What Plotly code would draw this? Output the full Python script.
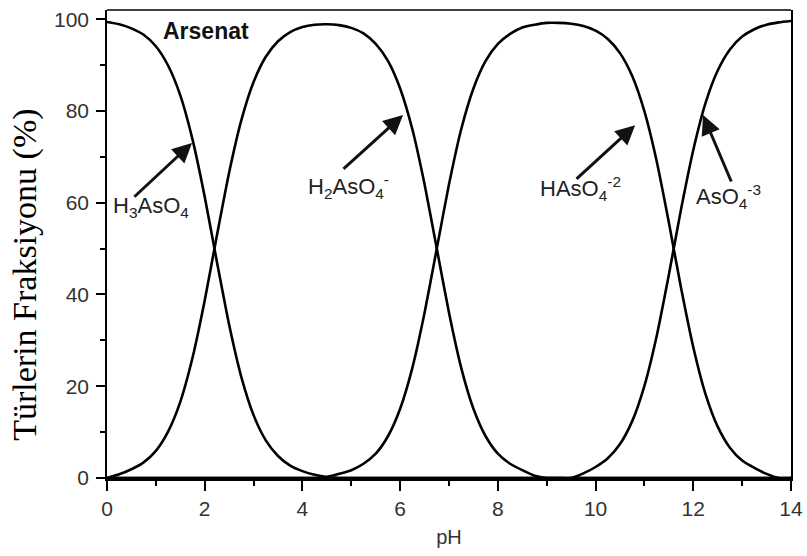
import plotly.graph_objects as go

# --- data ---
ph = [0.0, 0.25, 0.5, 0.75, 1.0, 1.25, 1.5, 1.75, 2.0, 2.25, 2.5, 2.75, 3.0, 3.25,
      3.5, 3.75, 4.0, 4.25, 4.5, 4.75, 5.0, 5.25, 5.5, 5.75, 6.0, 6.25, 6.5, 6.75,
      7.0, 7.25, 7.5, 7.75, 8.0, 8.25, 8.5, 8.75, 9.0, 9.25, 9.5, 9.75, 10.0, 10.25,
      10.5, 10.75, 11.0, 11.25, 11.5, 11.75, 12.0, 12.25, 12.5, 12.75, 13.0, 13.25,
      13.5, 13.75, 14.0]

h3aso4 = [99.4, 98.9, 98.0, 96.6, 94.1, 89.9, 83.4, 73.8, 61.3, 47.1, 33.4, 22.0, 13.7, 8.2,
          4.8, 2.7, 1.5, 0.7, 0.2, 0.0, 0.0, 0.0, 0.0, 0.0, 0.0, 0.0, 0.0, 0.0,
          0.0, 0.0, 0.0, 0.0, 0.0, 0.0, 0.0, 0.0, 0.0, 0.0, 0.0, 0.0, 0.0, 0.0,
          0.0, 0.0, 0.0, 0.0, 0.0, 0.0, 0.0, 0.0, 0.0, 0.0, 0.0, 0.0,
          0.0, 0.0, 0.0]

h2aso4 = [0.0, 0.8, 1.9, 3.4, 5.9, 10.1, 16.6, 26.2, 38.7, 52.9, 66.6, 78.0, 86.3, 91.8,
          95.2, 97.2, 98.3, 98.8, 98.9, 98.7, 98.1, 96.9, 94.6, 90.9, 84.9, 76.0, 64.0, 50.0,
          36.0, 24.0, 15.1, 9.1, 5.3, 3.1, 1.7, 0.5, 0.0, 0.0, 0.0, 0.0, 0.0, 0.0,
          0.0, 0.0, 0.0, 0.0, 0.0, 0.0, 0.0, 0.0, 0.0, 0.0, 0.0, 0.0,
          0.0, 0.0, 0.0]

haso4 = [0.0, 0.0, 0.0, 0.0, 0.0, 0.0, 0.0, 0.0, 0.0, 0.0, 0.0, 0.0, 0.0, 0.0,
         0.0, 0.0, 0.0, 0.0, 0.2, 0.9, 1.7, 3.1, 5.3, 9.1, 15.1, 24.0, 36.0, 50.0,
         64.0, 76.0, 84.9, 90.9, 94.6, 96.8, 98.2, 98.8, 99.2, 99.2, 99.0, 98.5, 97.5, 95.7,
         92.6, 87.6, 79.9, 69.1, 55.7, 41.4, 28.5, 18.3, 11.2, 6.6, 3.8, 2.2,
         0.9, 0.0, 0.0]

aso4 = [0.0, 0.0, 0.0, 0.0, 0.0, 0.0, 0.0, 0.0, 0.0, 0.0, 0.0, 0.0, 0.0, 0.0,
        0.0, 0.0, 0.0, 0.0, 0.0, 0.0, 0.0, 0.0, 0.0, 0.0, 0.0, 0.0, 0.0, 0.0,
        0.0, 0.0, 0.0, 0.0, 0.0, 0.0, 0.0, 0.0, 0.0, 0.0, 0.0, 1.0, 2.4, 4.3,
        7.4, 12.4, 20.1, 30.9, 44.3, 58.6, 71.5, 81.7, 88.8, 93.4, 96.2, 97.8,
        98.8, 99.3, 99.6]

series = [("H3AsO4", h3aso4), ("H2AsO4-", h2aso4), ("HAsO4-2", haso4), ("AsO4-3", aso4)]

# species labels: (text, x_left, y_mid, arrow head x, head y, tail x, tail y)
labels = [
    ("H<sub>3</sub>AsO<sub>4</sub>", 0.08, 59.0, 1.74, 73.0, 0.53, 61.0),
    ("H<sub>2</sub>AsO<sub>4</sub><sup>-</sup>", 4.08, 63.6, 6.06, 79.1, 4.81, 67.1),
    ("HAsO<sub>4</sub><sup>-2</sup>", 8.83, 63.2, 10.81, 76.9, 9.58, 64.9),
    ("AsO<sub>4</sub><sup>-3</sup>", 12.01, 61.3, 12.20, 79.1, 12.79, 64.3),
]

x_ticks = [0, 2, 4, 6, 8, 10, 12, 14]
y_ticks = [0, 20, 40, 60, 80, 100]

fig = go.Figure()
for name, vals in series:
    fig.add_trace(go.Scatter(x=ph, y=vals, mode="lines", name=name,
                             line=dict(color="black", width=2.6, shape="spline", smoothing=0.6),
                             showlegend=False, hoverinfo="skip"))

sans = "Liberation Sans, Arial, Helvetica, sans-serif"
for text, xl, ym, hx, hy, tx, ty in labels:
    fig.add_annotation(x=xl, y=ym, xref="x", yref="y", text=text, showarrow=False,
                       xanchor="left", yanchor="middle",
                       font=dict(family=sans, size=22, color="#222"))
    fig.add_annotation(x=hx, y=hy, ax=tx, ay=ty, xref="x", yref="y", axref="x", ayref="y",
                       text="", showarrow=True, arrowhead=2, arrowsize=1.3, arrowwidth=3,
                       arrowcolor="#111", standoff=0, startstandoff=0)

fig.add_annotation(x=1.11, y=97.4, xref="x", yref="y", text="<b>Arsenat</b>", showarrow=False,
                   xanchor="left", yanchor="middle", font=dict(family=sans, size=23, color="#111"))

fig.add_annotation(x=-0.12, y=0.434, xref="paper", yref="paper", text="Türlerin Fraksiyonu (%)",
                   textangle=-90, showarrow=False, xanchor="center", yanchor="middle",
                   font=dict(family="Liberation Serif, Times New Roman, serif", size=34, color="black"))

# top frame line
fig.add_shape(type="line", xref="paper", yref="paper", x0=0, x1=1, y0=1, y1=1,
              line=dict(color="black", width=1.5))

fig.update_layout(
    width=807, height=556,
    margin=dict(l=107, r=16, t=10, b=78, autoexpand=False),
    paper_bgcolor="white", plot_bgcolor="white",
    xaxis=dict(range=[0, 14], tickvals=x_ticks, ticktext=[str(v) for v in x_ticks],
               showline=True, linecolor="black", linewidth=2.5, mirror=False,
               ticks="outside", ticklen=10, tickwidth=1.5, tickcolor="black",
               minor=dict(dtick=1, tick0=0, ticks="outside", ticklen=5, tickwidth=1.5, tickcolor="black"),
               showgrid=False, zeroline=False, ticklabelstandoff=0, ticklabeloverflow="allow",
               automargin=False,
               tickfont=dict(family=sans, size=21, color="#333"),
               title=dict(text="pH", font=dict(family=sans, size=20, color="#333"), standoff=12)),
    yaxis=dict(range=[0, 102], tickvals=y_ticks, ticktext=[str(v) for v in y_ticks],
               showline=True, linecolor="black", linewidth=1.5, mirror=True,
               ticks="outside", ticklen=9, tickwidth=1.5, tickcolor="black",
               minor=dict(dtick=10, tick0=0, ticks="outside", ticklen=5, tickwidth=1.5, tickcolor="black"),
               showgrid=False, zeroline=False, ticklabelstandoff=3, ticklabeloverflow="allow",
               automargin=False,
               tickfont=dict(family=sans, size=21, color="#333")),
)

fig.write_html("out.html", config={"displayModeBar": False},
               post_script="document.body.style.margin='0';document.body.style.overflow='hidden';")
